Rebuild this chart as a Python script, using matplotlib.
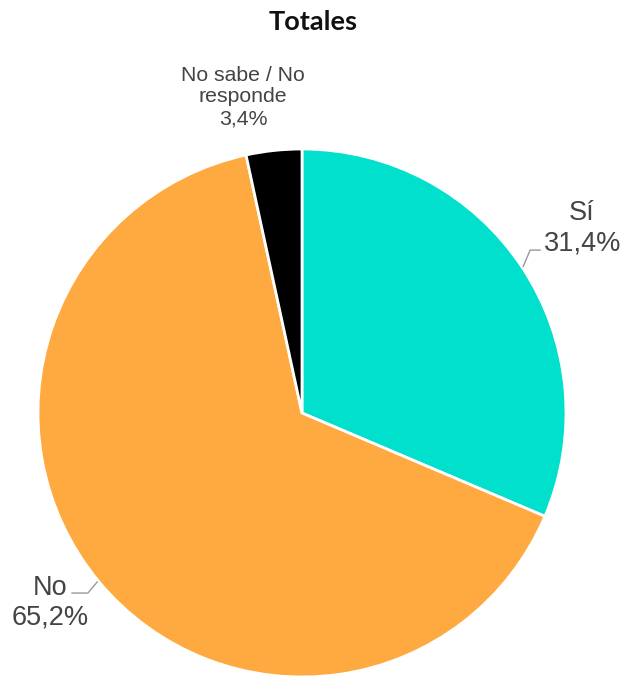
import matplotlib
matplotlib.use("Agg")
import matplotlib.pyplot as plt
import numpy as np

categories = ["Sí", "No", "No sabe / No\nresponde"]
values = [31.4, 65.2, 3.4]
value_labels = ["31,4%", "65,2%", "3,4%"]
colors = ["#00E0CC", "#FFAA40", "#000000"]

W, H = 623, 676
fig = plt.figure(figsize=(W / 100, H / 100), dpi=100)
cx, cy, r = 302, 413, 264
ax = fig.add_axes([(cx - r) / W, (H - cy - r) / H, 2 * r / W, 2 * r / H])
ax.pie(values, colors=colors, startangle=90, counterclock=False,
       wedgeprops=dict(edgecolor="white", linewidth=2), radius=1.0)
ax.set_xlim(-1, 1)
ax.set_ylim(-1, 1)
ax.set_aspect("equal")
ax.axis("off")

txt_color = "#444444"
line_color = "#999999"
font = ["Liberation Sans", "DejaVu Sans"]

# Sí
ax.plot([0.838, 0.864, 0.902], [0.555, 0.617, 0.617], color=line_color, lw=1, clip_on=False)
ax.text(1.061, 0.70, f"{categories[0]}\n{value_labels[0]}", ha="center", va="center",
        fontsize=19.5, color=txt_color, family=font, linespacing=1.2, clip_on=False)
# No
ax.plot([-0.776, -0.811, -0.871], [-0.640, -0.682, -0.682], color=line_color, lw=1, clip_on=False)
ax.text(-0.955, -0.718, f"{categories[1]}\n{value_labels[1]}", ha="center", va="center",
        fontsize=19.5, color=txt_color, family=font, linespacing=1.2, clip_on=False)
# No sabe
ax.text(-0.223, 1.197, f"{categories[2]}\n{value_labels[2]}", ha="center", va="center",
        fontsize=15.3, color=txt_color, family=font, linespacing=1.18, clip_on=False)

fig.text(313 / W, 1 - 22 / H, "Totales", ha="center", va="center", fontsize=19.5,
         fontweight="bold", family=["Lato", "DejaVu Sans"], color="#111111")

fig.savefig("out.png", dpi=100)
